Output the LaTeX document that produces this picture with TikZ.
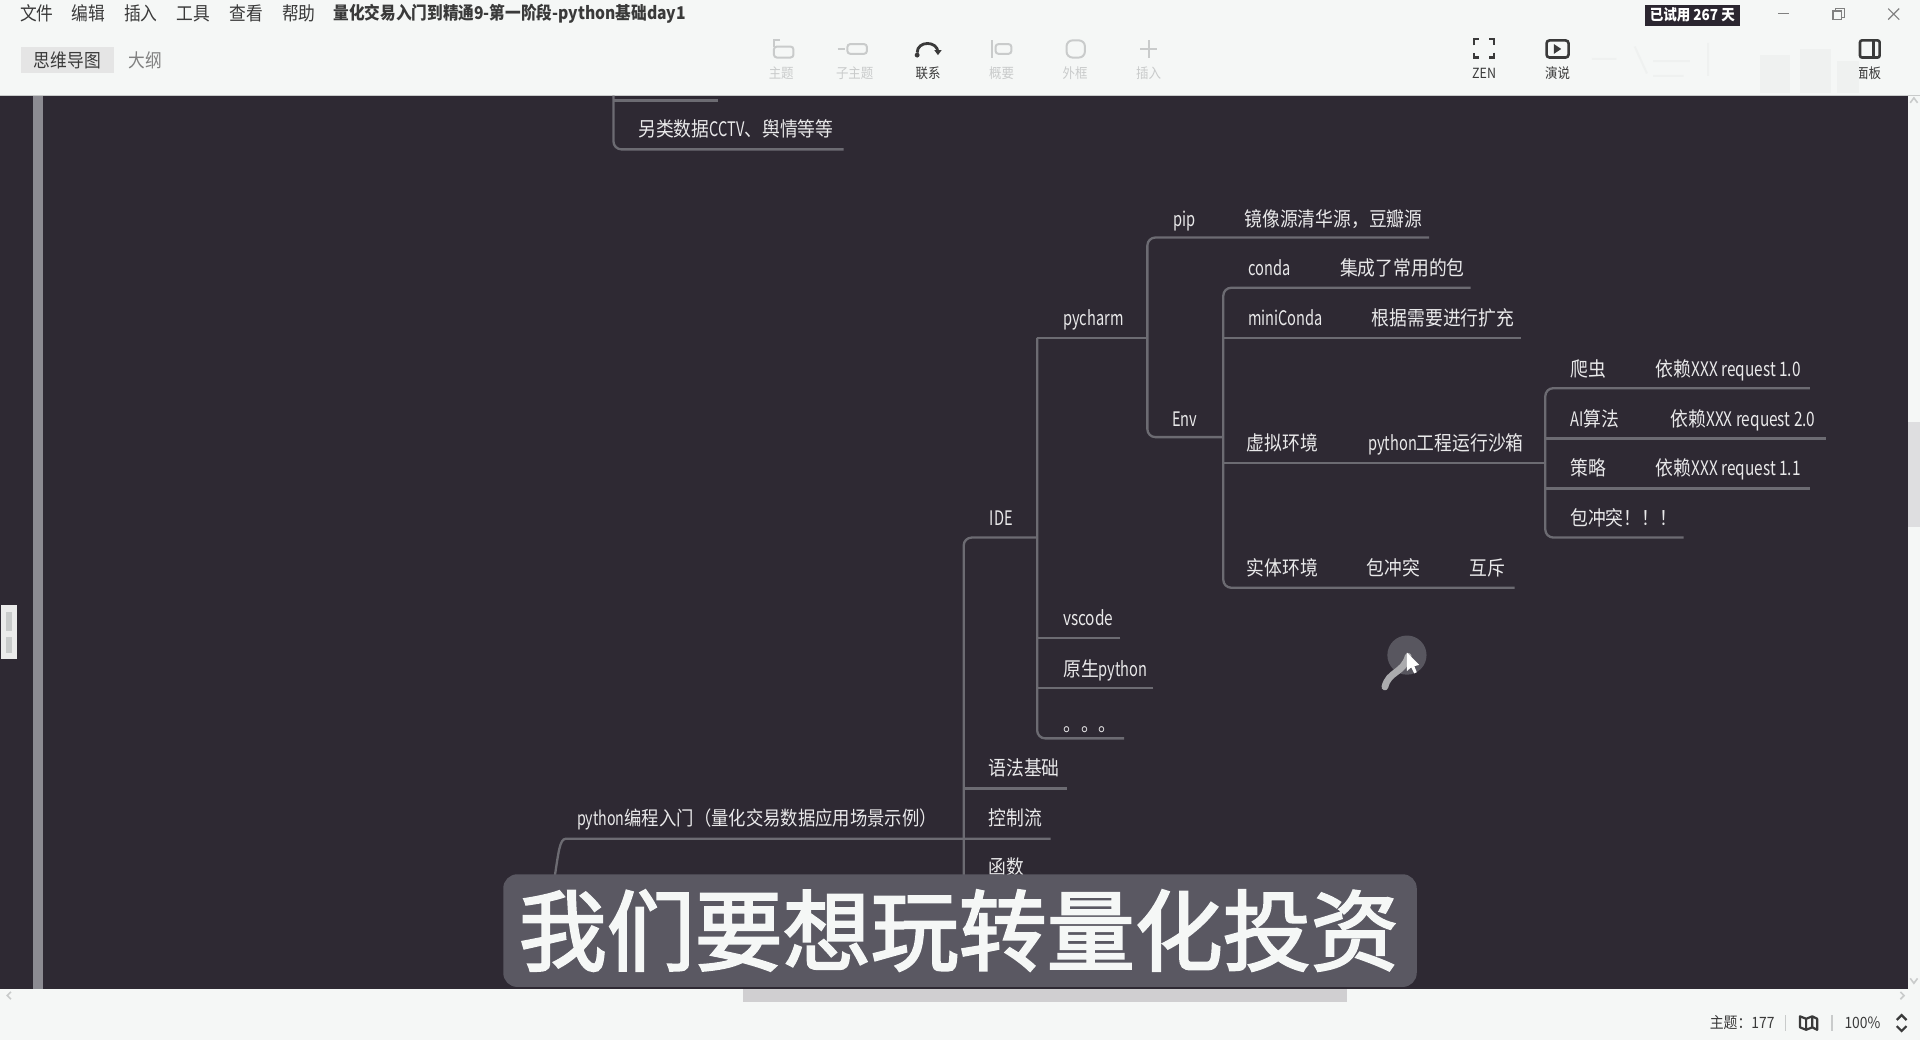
\documentclass[tikz,border=0pt]{standalone}
\usepackage{fontspec}
\setmainfont{Noto Sans CJK SC}
\newfontfamily\narrowf[FakeStretch=0.89]{Noto Sans CJK SC}
\newfontfamily\latf[FakeStretch=0.73]{Noto Sans CJK SC}
\newfontfamily\latg[FakeStretch=0.77]{Noto Sans CJK SC}
\newfontfamily\capf[FakeBold=2.4]{Noto Sans CJK SC}
\newcommand{\lata}[1]{{\latf #1}}
\newcommand{\latb}[1]{{\latg #1}}
\usetikzlibrary{calc}
\definecolor{canvas}{HTML}{2E2933}
\definecolor{shell}{HTML}{F5F7F6}
\definecolor{wire}{HTML}{6C6B72}
\definecolor{ink}{HTML}{3A3A3A}
\definecolor{dim}{HTML}{C9CBCB}
\definecolor{tx}{HTML}{E9E9EA}
\definecolor{strip}{HTML}{8C8B92}
\definecolor{halo}{HTML}{58565F}
\definecolor{trail}{HTML}{ABABAE}
\definecolor{capbg}{HTML}{5A5862}
\definecolor{tabbg}{HTML}{E5E5E5}
\definecolor{wmark}{HTML}{EFF1F0}
\definecolor{badge}{HTML}{2B2630}
\definecolor{thumbv}{HTML}{DEDEE0}
\definecolor{thumbh}{HTML}{D0CFD1}
\tikzset{
 x=0.61224pt,y=-0.61224pt,
 tp/.style={anchor=west,inner sep=0pt,text height=8.8pt,text depth=1.2pt,text=tx,font=\narrowf\fontsize{10}{10}\selectfont},
 conn/.style={draw=wire,line width=1.15pt,rounded corners=4pt},
 menu/.style={inner sep=0pt,text=ink,font=\narrowf\fontsize{9.4}{10}\selectfont},
 tool/.style={inner sep=0pt,text=ink,font=\narrowf\fontsize{7}{8}\selectfont},
 tooloff/.style={tool,text=dim},
 ico/.style={draw=ink,line width=1.1pt},
 icooff/.style={draw=dim,line width=1pt},
}
\begin{document}
\begin{tikzpicture}
\useasboundingbox (0,0) rectangle (1568,849.33);
\fill[shell] (0,0) rectangle (1568,849.33);
\fill[canvas] (0,78) rectangle (1558,807.6);
\draw[draw=dim,line width=.5pt] (0,77.6) -- (1568,77.6);
\fill[strip] (27,78) rectangle (35,807.6);

% --- text nodes
\node[tp] (other) at (521,105) {另类数据\lata{CCTV}、舆情等等};
\node[tp] (pip) at (958,179) {\lata{pip}};
\node[tp] (mirror) at (1016,179) {镜像源清华源，豆瓣源};
\node[tp] (conda) at (1019,219) {\lata{conda}};
\node[tp] (condaN) at (1094,219) {集成了常用的包};
\node[tp] (mini) at (1019,260) {\lata{miniConda}};
\node[tp] (miniN) at (1120,260) {根据需要进行扩充};
\node[tp] (pycharm) at (868,260) {\lata{pycharm}};
\node[tp] (crawler) at (1282,301) {爬虫};
\node[tp] (crawlerN) at (1352,301) {依赖\latb{XXX request 1.0}};
\node[tp] (ai) at (1282,342) {\lata{AI}算法};
\node[tp] (aiN) at (1364,342) {依赖\latb{XXX request 2.0}};
\node[tp] (env) at (957,342) {\lata{Env}};
\node[tp] (venv) at (1018,362) {虚拟环境};
\node[tp] (sandbox) at (1117,362) {\lata{python}工程运行沙箱};
\node[tp] (strat) at (1282,382) {策略};
\node[tp] (stratN) at (1352,382) {依赖\latb{XXX request 1.1}};
\node[tp] (clash) at (1282,423) {包冲突！！！};
\node[tp] (ide) at (808,423) {\lata{IDE}};
\node[tp] (real) at (1018,464) {实体环境};
\node[tp] (realN) at (1116,464) {包冲突};
\node[tp] (mutex) at (1200,464) {互斥};
\node[tp] (vscode) at (868,505) {\latb{vscode}};
\node[tp] (native) at (868,546) {原生\lata{python}};
\node[tp] (more) at (868,591) {。。。};
\node[tp] (syntax) at (807,627) {语法基础};
\node[tp] (flow) at (807,668) {控制流};
\node[tp] (func) at (807,708) {函数};
\node[tp,font=\narrowf\fontsize{9.75}{10}\selectfont] (intro) at (471,668) {\lata{python}编程入门（量化交易数据应用场景示例）};

% --- junction and end coordinates
\coordinate (topT) at (501,78);
\coordinate (upE) at (586,82);
\coordinate (otherE) at (689,122);
\coordinate (pipE) at (1167,194);
\coordinate (condaE) at (1201,235);
\coordinate (miniE) at (1242,276);
\coordinate (sandE) at (1262,378);
\coordinate (realE) at (1237,480);
\coordinate (envJ) at (937,357);
\coordinate (envE) at (999,357);
\coordinate (pyJ) at (937,276);
\coordinate (pyS) at (847,276);
\coordinate (venvJ) at (999,378);
\coordinate (crE) at (1478,317);
\coordinate (aiE) at (1491,358);
\coordinate (stE) at (1478,399);
\coordinate (clE) at (1375,439);
\coordinate (ideJ) at (847,439);
\coordinate (ideS) at (787,439);
\coordinate (vsE) at (915,521);
\coordinate (naE) at (942,562);
\coordinate (moE) at (918,603);
\coordinate (syE) at (871,644);
\coordinate (flE) at (858,685);
\coordinate (bot) at (787,790);
\coordinate (inL) at (453,716);
\coordinate (inC) at (462,685);

% --- connectors
\draw[conn] (topT) |- (otherE);
\draw[conn] (topT |- upE) -- (upE);
\draw[conn] (pipE) -| (envJ) -- (envE);
\draw[conn] (condaE) -| (realE -| envE) -- (realE);
\draw[conn] (miniE) -- (miniE -| envE);
\draw[conn] (venvJ) -- (sandE);
\draw[conn] (crE) -| (clE -| sandE) -- (clE);
\draw[conn] (aiE) -- (aiE -| sandE);
\draw[conn] (stE) -- (stE -| sandE);
\draw[conn] (pyJ) -- (pyS);
\draw[conn] (pyS) -- (moE -| pyS) -- (moE);
\draw[conn] (vsE) -- (vsE -| ideJ);
\draw[conn] (naE) -- (naE -| ideJ);
\draw[conn] (ideJ) -- (ideS) -- (bot);
\draw[conn] (syE) -- (syE -| bot);
\draw[conn,rounded corners=0pt] (flE) -- (inC) .. controls (457,685) and (456,697) .. (inL);

% --- cursor
\fill[halo] (1149,535) circle[radius=16];
\draw[trail,line width=3.4pt,line cap=round] (1131,561) .. controls (1134,548) and (1146,550) .. (1150,536);
\fill[white] (1149,533) -- (1149,548) -- (1152.5,545) -- (1155,550) -- (1157,549) -- (1155,544) -- (1159,543) -- cycle;

% --- caption
\fill[capbg,rounded corners=7pt] (411,714) rectangle (1157,806);
\node[inner sep=0pt,text=shell,font=\capf\fontsize{44}{48}\selectfont] (cap) at (783,760) {我们要想玩转量化投资};

% --- left handle
\fill[white!92!black] (1,494) rectangle (14,538);
\fill[dim] (5,500) rectangle (10,515);
\fill[dim] (5,520) rectangle (10,533);

% --- menu
\node[menu] (m1) at (30,11) {文件};
\node[menu] (m2) at (72,11) {编辑};
\node[menu] (m3) at (115,11) {插入};
\node[menu] (m4) at (158,11) {工具};
\node[menu] (m5) at (201,11) {查看};
\node[menu] (m6) at (244,11) {帮助};
\node[menu,anchor=west,font=\narrowf\fontsize{8.8}{10}\bfseries\selectfont] (ttl) at (272,11.5) {量化交易入门到精通9-第一阶段-python基础day1};
\fill[tabbg] (17,38) rectangle (93,60);
\node[menu] (t1) at (55,49) {思维导图};
\node[menu,text=gray] (t2) at (119,49) {大纲};

% --- toolbar
\draw[icooff,rounded corners=1.5pt] (632,38) rectangle (648,47);
\draw[icooff] (632,38) -- (632,33) -- (637,33);
\node[tooloff] (b1) at (638,60) {主题};
\draw[icooff,rounded corners=1.5pt] (692,36) rectangle (708,44);
\draw[icooff] (684,40) -- (690,40);
\node[tooloff] (b2) at (698,60) {子主题};
\draw[ico,line width=1.4pt] (749,43) .. controls (749,33) and (766,33) .. (766,43);
\fill[ink] (749,45) circle[radius=2];
\fill[ink] (763,41) -- (769,41) -- (766,45) -- cycle;
\node[tool] (b3) at (758,60) {联系};
\draw[icooff] (810,33) -- (810,47);
\draw[icooff,rounded corners=1.5pt] (813,36) rectangle (826,44);
\node[tooloff] (b4) at (818,60) {概要};
\draw[icooff,rounded corners=3pt] (871,33) rectangle (886,47);
\node[tooloff] (b5) at (878,60) {外框};
\draw[icooff] (938,33) -- (938,47) (931,40) -- (945,40);
\node[tooloff] (b6) at (938,60) {插入};
\draw[ico] (1204,37) |- (1208,32) (1216,32) -| (1220,37) (1220,43) |- (1216,47) (1208,47) -| (1204,43);
\node[tool] (b7) at (1212,60) {ZEN};
\draw[ico,rounded corners=1.5pt,line width=1.3pt] (1263,33) rectangle (1281,47);
\fill[ink] (1269,36) -- (1269,44) -- (1275,40) -- cycle;
\node[tool] (b8) at (1272,60) {演说};
\draw[ico,rounded corners=1pt,line width=1.3pt] (1519,33) rectangle (1535,47);
\draw[ico] (1530,33) -- (1530,47);
\node[tool] (b9) at (1526,60) {面板};

% --- faint watermark strokes
\draw[wmark,line width=1pt] (1300,48) -- (1320,48) (1335,38) -- (1345,60) (1350,50) -- (1380,50) (1350,62) -- (1375,62) (1395,35) -- (1395,62);
\fill[wmark] (1437,45) rectangle (1462,76);
\fill[wmark] (1470,40) rectangle (1495,76);
\fill[wmark] (1500,50) rectangle (1518,76);

% --- window controls
\fill[badge] (1343,4) rectangle (1421,21);
\node[inner sep=0pt,text=white,font=\narrowf\fontsize{7.6}{9}\bfseries\selectfont] (trial) at (1382,12.5) {已试用 267 天};
\draw[gray,line width=.6pt] (1452,11) -- (1461,11);
\draw[gray,line width=.6pt] (1497,9) rectangle (1504,16) (1499,9) -- (1499,7) -- (1506,7) -- (1506,14) -- (1504,14);
\draw[gray,line width=.6pt] (1542,7) -- (1551,16) (1551,7) -- (1542,16);

% --- scrollbars
\fill[thumbv] (1558,345) rectangle (1568,430);
\draw[dim,line width=.8pt] (1560,84) -- (1563,80) -- (1566,84);
\draw[dim,line width=.8pt] (1560,799) -- (1563,803) -- (1566,799);
\fill[thumbh] (607,808) rectangle (1100,818);
\draw[dim,line width=.8pt] (1552,810) -- (1555,813) -- (1552,816);
\draw[dim,line width=.8pt] (9,810) -- (6,813) -- (9,816);

% --- status bar
\node[menu,anchor=west,font=\narrowf\fontsize{7.8}{9}\selectfont] (st1) at (1396,835) {主题：177};
\draw[dim,line width=.8pt] (1458,829) -- (1458,842);
\draw[ico,line join=round] (1470,830) -- (1475,832) -- (1480,830) -- (1484,832) -- (1484,841) -- (1480,839) -- (1475,841) -- (1470,839) -- cycle (1475,832) -- (1475,841) (1480,830) -- (1480,839);
\draw[dim,line width=.8pt] (1496,829) -- (1496,842);
\node[menu,font=\narrowf\fontsize{7.8}{9}\selectfont] (st2) at (1521,835) {100\%};
\draw[ico] (1549,833) -- (1553,829) -- (1557,833) (1549,838) -- (1553,842) -- (1557,838);
\end{tikzpicture}
\end{document}
